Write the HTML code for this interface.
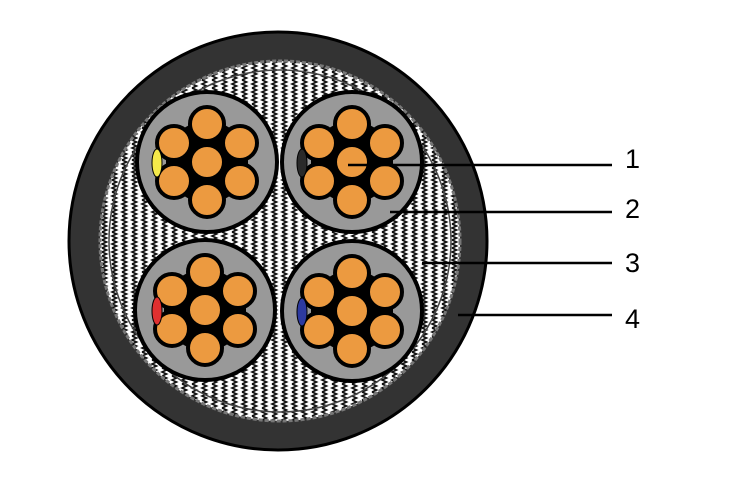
<!DOCTYPE html>
<html><head><meta charset="utf-8"><style>
html,body{margin:0;padding:0;background:#fff;width:744px;height:478px;overflow:hidden}
svg text{font-family:"Liberation Sans",sans-serif;font-size:27px;fill:#000}
</style></head><body>
<svg width="744" height="478" viewBox="0 0 744 478" xmlns="http://www.w3.org/2000/svg">
<defs>
<pattern id="wave" width="10" height="8" patternUnits="userSpaceOnUse">
<rect width="10" height="8" fill="#fff"/>
<path d="M2 0 L6.5 2 L2 4 L6.5 6 L2 8" stroke="#111" stroke-width="1.7" fill="none"/>
</pattern>
<g id="core">
<circle r="70" fill="#999" stroke="#000" stroke-width="4"/>
<polygon points="0,-38 33,-19 33,19 0,38 -33,19 -33,-19" fill="#000" stroke="#000" stroke-width="16" stroke-linejoin="round"/>
<g fill="#ec9a40" stroke="#000" stroke-width="4">
<circle cx="0" cy="0" r="17"/>
<circle cx="0" cy="-38" r="17"/>
<circle cx="33" cy="-19" r="17"/>
<circle cx="33" cy="19" r="17"/>
<circle cx="0" cy="38" r="17"/>
<circle cx="-33" cy="19" r="17"/>
<circle cx="-33" cy="-19" r="17"/>
</g>
</g>
</defs>
<circle cx="278" cy="241" r="209" fill="#333" stroke="#000" stroke-width="3"/>
<circle cx="280" cy="241" r="180" fill="url(#wave)" stroke="#777" stroke-width="3" stroke-dasharray="4 2"/>
<circle cx="280" cy="241" r="171" fill="none" stroke="#444" stroke-width="1.5"/>
<use href="#core" x="207" y="162"/>
<use href="#core" x="352" y="162"/>
<use href="#core" x="205" y="310"/>
<use href="#core" x="352" y="311"/>
<ellipse cx="157" cy="163" rx="5" ry="14" fill="#f5e94a" stroke="#000" stroke-width="1"/>
<ellipse cx="302" cy="163" rx="5" ry="14" fill="#2a2a2a" stroke="#000" stroke-width="1"/>
<ellipse cx="157" cy="311" rx="5" ry="14" fill="#e03030" stroke="#000" stroke-width="1"/>
<ellipse cx="302" cy="312" rx="5" ry="14" fill="#2d3aa0" stroke="#000" stroke-width="1"/>
<g stroke="#000" stroke-width="2.5">
<line x1="348" y1="165" x2="612" y2="165"/>
<line x1="390" y1="212" x2="612" y2="212"/>
<line x1="422" y1="263" x2="612" y2="263"/>
<line x1="458" y1="315" x2="612" y2="315"/>
</g>
<text x="625" y="168">1</text>
<text x="625" y="218">2</text>
<text x="625" y="272">3</text>
<text x="625" y="328">4</text>
</svg>
</body></html>
